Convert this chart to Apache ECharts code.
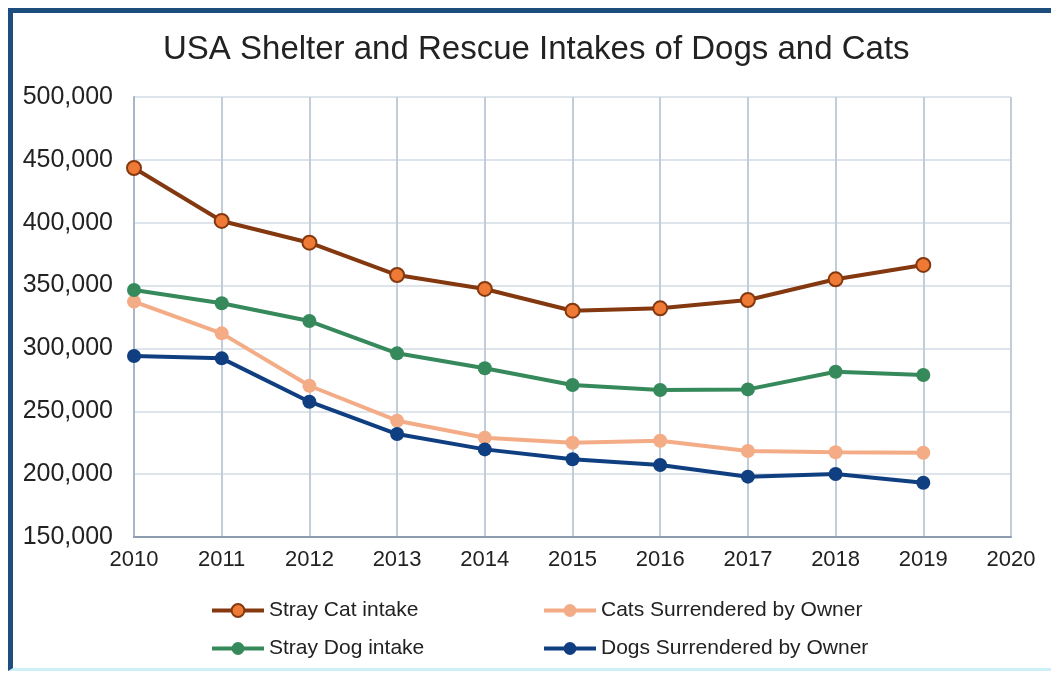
<!DOCTYPE html>
<html lang="en">
<head>
    <meta charset="UTF-8">
    <title>USA Shelter and Rescue Intakes of Dogs and Cats</title>
    <script type="text/javascript" src="https://cdn.jsdelivr.net/npm/echarts@6/dist/echarts.min.js"></script>
    <style type="text/css">
        html, body { margin: 0; padding: 0; background: #fff; }
        #frame {
            position: absolute; left: 8px; top: 8px; width: 1043px; height: 663px;
            border-top: 5px solid #1d4e7e; border-left: 5px solid #1d4e7e;
            border-bottom: 3px solid #cdeff8; box-sizing: border-box;
        }
        #main { position: absolute; left: 0; top: 0; width: 1051px; height: 675px; }
    </style>
</head>
<body>
    <div id="frame"></div>
    <div id="main"></div>
    <script type="text/javascript">
        var years = [2010, 2011, 2012, 2013, 2014, 2015, 2016, 2017, 2018, 2019];
        var stray_cat = [443500, 401400, 384100, 358400, 347300, 330000, 331900, 338500, 355000, 366400];
        var cats_owner = [337200, 312000, 270300, 242500, 229000, 225000, 226600, 218400, 217400, 217000];
        var stray_dog = [346500, 335900, 321800, 296100, 284200, 270900, 266900, 267400, 281500, 278900];
        var dogs_owner = [294000, 292100, 257600, 231900, 219700, 211800, 207300, 198000, 200100, 193200];

        function pairs(arr) {
            return years.map(function (y, i) { return [y, arr[i]]; });
        }
        function fmt(v) {
            return String(v).replace(/\B(?=(\d{3})+(?!\d))/g, ',');
        }
        function line(name, arr, lineColor, fill, border) {
            return {
                name: name,
                type: 'line',
                data: pairs(arr),
                symbol: 'circle',
                symbolSize: 14,
                lineStyle: { color: lineColor, width: 4 },
                itemStyle: { color: fill, borderColor: border, borderWidth: border === fill ? 0 : 2 },
                emphasis: { disabled: true },
                z: 3
            };
        }

        var font = 'Liberation Sans, Arial, sans-serif';
        var legendText = { fontSize: 21, color: '#222', fontFamily: font };

        var option = {
            animation: false,
            textStyle: { fontFamily: font },
            title: {
                text: 'USA Shelter and Rescue Intakes of Dogs and Cats',
                left: 158,
                top: 28,
                textStyle: { fontSize: 33, fontWeight: 'normal', color: '#222', fontFamily: font }
            },
            legend: [
                {
                    orient: 'vertical', left: 205, top: 595, itemGap: 17,
                    itemWidth: 52, itemHeight: 16, textStyle: legendText,
                    lineStyle: { width: 4 },
                    data: ['Stray Cat intake', 'Stray Dog intake']
                },
                {
                    orient: 'vertical', left: 537, top: 595, itemGap: 17,
                    itemWidth: 52, itemHeight: 16, textStyle: legendText,
                    lineStyle: { width: 4 },
                    data: ['Cats Surrendered by Owner', 'Dogs Surrendered by Owner']
                }
            ],
            grid: { left: 134, right: 40, top: 97, bottom: 138 },
            xAxis: {
                type: 'value', min: 2010, max: 2020, interval: 1,
                axisLine: { lineStyle: { color: '#8d9cae', width: 2 } },
                axisTick: { show: false },
                axisLabel: { fontSize: 22, color: '#222', margin: 12, formatter: function (v) { return String(v); } },
                splitLine: { show: true, lineStyle: { color: '#c3cdda', width: 2 } }
            },
            yAxis: {
                type: 'value', min: 150000, max: 500000, interval: 50000,
                axisLine: { show: true, lineStyle: { color: '#a9b6c6', width: 2 } },
                axisTick: { show: false },
                axisLabel: { fontSize: 25, color: '#222', margin: 21, formatter: fmt },
                splitLine: { lineStyle: { color: '#dde4ec', width: 2 } }
            },
            series: [
                line('Stray Cat intake', stray_cat, '#84380f', '#ee7a35', '#84380f'),
                line('Cats Surrendered by Owner', cats_owner, '#f3ac86', '#f3ac86', '#f3ac86'),
                line('Stray Dog intake', stray_dog, '#36895a', '#36895a', '#36895a'),
                line('Dogs Surrendered by Owner', dogs_owner, '#0f3f80', '#0f3f80', '#0f3f80')
            ]
        };

        var myChart = echarts.init(document.getElementById('main'));
        myChart.setOption(option);
    </script>
</body>
</html>
